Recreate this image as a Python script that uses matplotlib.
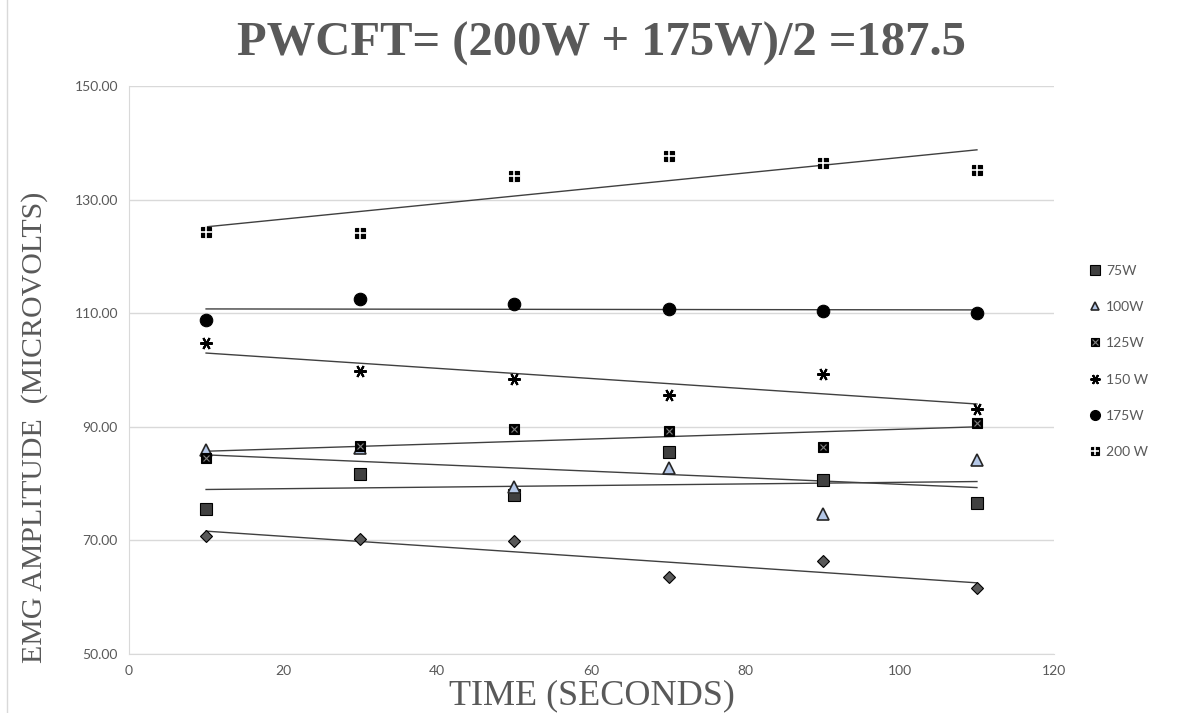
import numpy as np
import matplotlib.pyplot as plt
from matplotlib.lines import Line2D

# 数据
x = np.array([10, 30, 50, 70, 90, 110])
y_50w = [70.8, 70.2, 69.9, 63.6, 66.4, 61.6]
y_75w = [75.5, 81.7, 78.0, 85.6, 80.6, 76.6]
y_100w = [85.9, 86.3, 79.4, 82.7, 74.6, 84.2]
y_125w = [84.5, 86.6, 89.6, 89.3, 86.4, 90.7]
y_150w = [104.8, 99.8, 98.4, 95.6, 99.3, 93.1]
y_175w = [108.8, 112.5, 111.6, 110.7, 110.4, 110.0]
y_200w = [124.3, 124.1, 134.2, 137.7, 136.4, 135.2]

grey = '#595959'
fig = plt.figure(figsize=(11.91, 7.13), dpi=100)
ax = fig.add_axes([0.1083, 0.0827, 0.7767, 0.7967])

series = [
    (None, y_50w, dict(marker='D', ms=6.5, mfc='#595959', mec='black', mew=0.8)),
    ('75W', y_75w, dict(marker='s', ms=9, mfc='#404040', mec='black', mew=0.8)),
    ('100W', y_100w, dict(marker='^', ms=8, mfc='#b4c7e7', mec='#262626', mew=1.2)),
    ('125W', y_125w, dict(marker='s', ms=7, mfc='black', mec='black', mew=0.8)),
    ('150W', y_150w, dict(marker=(6, 2, 90), ms=9, mfc='black', mec='black', mew=1.5)),
    ('175W', y_175w, dict(marker='o', ms=9, mfc='black', mec='black', mew=0.8)),
    ('200W', y_200w, dict(marker='s', ms=7, mfc='black', mec='black', mew=0.8)),
]
legend_names = {'75W': '75W', '100W': '100W', '125W': '125W', '150W': '150 W', '175W': '175W', '200W': '200 W'}
overlay = {
    '125W': dict(marker='x', ms=5, mec='#808080', mew=0.8),
    '200W': dict(marker='+', ms=8, mec='white', mew=1.2),
}

handles = []
labels = []
for name, ys, style in series:
    ys = np.array(ys)
    k, b = np.polyfit(x, ys, 1)
    ax.plot([x[0], x[-1]], [k * x[0] + b, k * x[-1] + b], color='#404040', lw=1, zorder=2)
    ax.plot(x, ys, ls='none', zorder=3, **style)
    if name in overlay:
        ax.plot(x, ys, ls='none', zorder=4, **overlay[name])
    if name:
        h = Line2D([], [], ls='none', **{**style, 'ms': style['ms'] * 0.8})
        if name in overlay:
            o = overlay[name]
            h = (h, Line2D([], [], ls='none', **{**o, 'ms': o['ms'] * 0.8}))
        handles.append(h)
        labels.append(legend_names[name])

ax.set_xlim(0, 120)
ax.set_ylim(50, 150)
ax.set_xticks(np.arange(0, 121, 20))
ax.set_yticks(np.arange(50, 151, 20))
ax.set_yticklabels([f'{v:.2f}' for v in np.arange(50, 151, 20)])
ax.grid(axis='y', color='#d9d9d9', lw=1)
ax.set_axisbelow(True)
for s in ['top', 'right']:
    ax.spines[s].set_visible(False)
for s in ['left', 'bottom']:
    ax.spines[s].set_color('#d9d9d9')
ax.tick_params(length=0, colors=grey, labelsize=10, pad=8)
for lab in ax.get_xticklabels() + ax.get_yticklabels():
    lab.set_family('Lato')

ax.set_xlabel('TIME (SECONDS)', family='Liberation Serif', fontsize=26, color=grey)
ax.xaxis.set_label_coords(0.5, -0.045)
ax.set_ylabel('EMG AMPLITUDE  (MICROVOLTS)', family='Liberation Serif', fontsize=21.5, color=grey)
ax.yaxis.set_label_coords(-0.088, 0.40)
fig.text(0.505, 0.938, 'PWCFT= (200W + 175W)/2 =187.5', family='Liberation Serif', fontsize=35,
         fontweight='bold', color=grey, ha='center', va='center')

leg = ax.legend(handles, labels, loc='center left', bbox_to_anchor=(1.025, 0.515), frameon=False,
                handlelength=0.8, handletextpad=0.4, labelspacing=1.75,
                prop={'family': 'Lato', 'size': 10})
for t in leg.get_texts():
    t.set_color(grey)

fig.add_artist(Line2D([0.006, 0.006], [0, 1], color='#d9d9d9', lw=1))

plt.savefig('out.png', dpi=100)
plt.close()
